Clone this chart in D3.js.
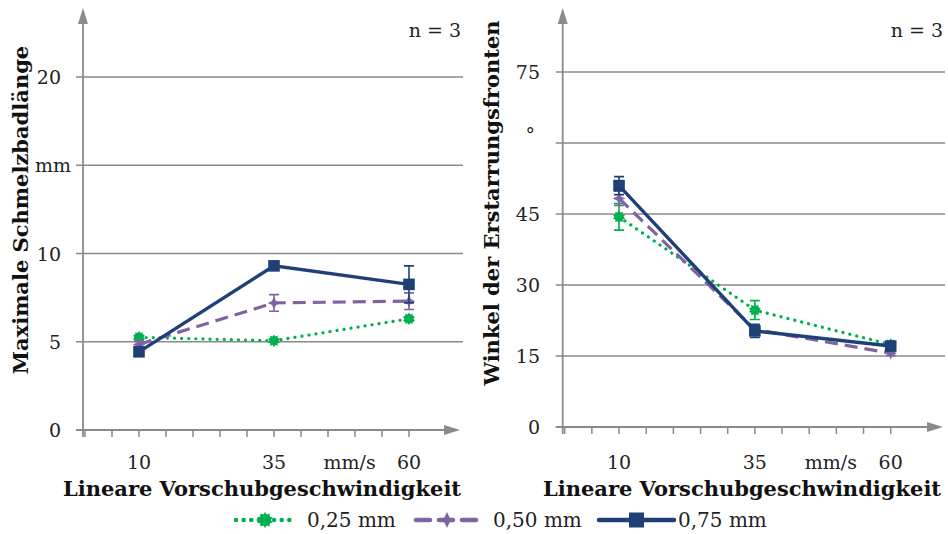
<!DOCTYPE html>
<html><head><meta charset="utf-8">
<script src="https://cdn.jsdelivr.net/npm/d3@7"></script>
<style>
html,body{margin:0;padding:0;background:#fff;}
svg{display:block;font-family:"DejaVu Serif",serif;}
</style></head>
<body><svg id="c" width="948" height="534"></svg>
<script>
// ---- data ----
const speeds = [10, 35, 60];
const seriesNames = ["0,25 mm", "0,50 mm", "0,75 mm"];
// left: Maximale Schmelzbadlänge (mm)
const lenMean025 = [5.25, 5.06, 6.3];
const lenErr025  = [0.12, 0.08, 0.12];
const lenMean050 = [4.85, 7.2, 7.3];
const lenErr050  = [0.2, 0.47, 0.47];
const lenMean075 = [4.43, 9.3, 8.25];
const lenErr075  = [0.18, 0.12, 1.05];
// right: Winkel der Erstarrungsfronten (°)
const angMean025 = [44.4, 24.7, 17.4];
const angErr025  = [2.8, 2.0, 0.4];
const angMean050 = [48.3, 20.6, 15.6];
const angErr050  = [1.5, 0.8, 0.5];
const angMean075 = [51.0, 20.3, 17.1];
const angErr075  = [1.9, 1.4, 0.5];
const leftYTicks = [0, 5, 10, 15, 20];
const leftYLabels = ["0", "5", "10", "mm", "20"];
const rightYTicks = [0, 15, 30, 45, 60, 75];
const rightYLabels = ["0", "15", "30", "45", "°", "75"];
const xTickValues = d3.range(0, 61, 5);
const xLabelValues = [10, 35, 60];
const xUnitPos = 49;

const colors = ["#00b050", "#8064a2", "#1f3f77"];
const dashes = ["0.1 7", "13 7", null];

// custom marker shapes
function burst(r) {
  const n = 10, pts = [];
  for (let i = 0; i < 2 * n; i++) {
    const a = Math.PI * i / n - Math.PI / 2, rr = i % 2 ? r * 0.72 : r;
    pts.push([rr * Math.cos(a), rr * Math.sin(a)]);
  }
  return "M" + pts.join("L") + "Z";
}
function star4(r) {
  const pts = [];
  for (let i = 0; i < 8; i++) {
    const a = Math.PI * i / 4 - Math.PI / 2, rr = i % 2 ? r * 0.45 : r;
    pts.push([rr * Math.cos(a), rr * Math.sin(a)]);
  }
  return "M" + pts.join("L") + "Z";
}
function square(r) { return `M${-r},${-r}h${2 * r}v${2 * r}h${-2 * r}Z`; }
const shapes = [burst, star4, square];

const svg = d3.select("#c");
const grid = "#8a8a8a";

function panel(o) {
  const g = svg.append("g");
  const x = d3.scaleLinear().domain([0, 60]).range(o.xr);
  const y = d3.scaleLinear().domain(o.yd).range(o.yr);
  const ax = o.xr[0] - 2;
  o.yTicks.forEach((t, i) => {
    if (t > 0) g.append("line").attr("x1", ax - 7).attr("x2", o.gridEnd)
      .attr("y1", y(t)).attr("y2", y(t)).attr("stroke", grid).attr("stroke-width", 1.5);
    const lab = o.yLabels[i];
    g.append("text").attr("x", o.labelX).attr("y", y(t) + (lab === "°" ? -2 : 7))
      .attr("text-anchor", lab === "mm" ? "middle" : "end")
      .attr("font-size", 19).attr("fill", "#222").text(lab)
      .attr("dx", lab === "mm" ? -8 : (lab === "°" ? -5 : 0));
  });
  xTickValues.forEach(t => g.append("line").attr("x1", x(t)).attr("x2", x(t))
    .attr("y1", y(0)).attr("y2", y(0) + 7).attr("stroke", grid).attr("stroke-width", 1.5));
  g.append("line").attr("x1", ax - 7).attr("x2", o.xArrow - 12).attr("y1", y(0)).attr("y2", y(0))
    .attr("stroke", grid).attr("stroke-width", 1.8);
  g.append("path").attr("d", `M${o.xArrow},${y(0)} l-16,-5 l0,10 z`).attr("fill", grid);
  g.append("line").attr("x1", ax).attr("x2", ax).attr("y1", y(0) + 7).attr("y2", 24)
    .attr("stroke", grid).attr("stroke-width", 1.8);
  g.append("path").attr("d", `M${ax},8 l-5,16 l10,0 z`).attr("fill", grid);
  xLabelValues.forEach(v => g.append("text").attr("x", x(v)).attr("y", 469)
    .attr("text-anchor", "middle").attr("font-size", 19).attr("fill", "#222").text(v));
  g.append("text").attr("x", x(xUnitPos)).attr("y", 469).attr("text-anchor", "middle")
    .attr("font-size", 19).attr("fill", "#222").text("mm/s");
  g.append("text").attr("x", o.titleX).attr("y", 496).attr("text-anchor", "middle")
    .attr("font-size", 21).attr("font-weight", "bold").attr("fill", "#111")
    .text("Lineare Vorschubgeschwindigkeit");
  g.append("text").attr("transform", `translate(${o.yTitleX},${o.yTitleY}) rotate(-90)`)
    .attr("text-anchor", "middle").attr("font-size", 21).attr("font-weight", "bold")
    .attr("fill", "#111").text(o.yTitle);
  g.append("text").attr("x", o.gridEnd - 2).attr("y", 37).attr("text-anchor", "end")
    .attr("font-size", 19).attr("fill", "#222").text("n = 3");
  o.means.forEach((m, s) => {
    const pts = speeds.map((v, i) => [x(v), y(m[i])]);
    g.append("path").attr("d", d3.line()(pts)).attr("fill", "none")
      .attr("stroke", colors[s]).attr("stroke-width", s === 2 ? 3.4 : 3.2)
      .attr("stroke-linecap", s === 0 ? "round" : "butt")
      .attr("stroke-dasharray", dashes[s]);
    speeds.forEach((v, i) => {
      const e = o.errs[s][i];
      const cx = x(v), y1 = y(m[i] + e), y2 = y(m[i] - e);
      g.append("path").attr("d", `M${cx},${y1}V${y2}M${cx - 5},${y1}h10M${cx - 5},${y2}h10`)
        .attr("stroke", colors[s]).attr("stroke-width", 1.6).attr("fill", "none");
      g.append("path").attr("d", shapes[s](s === 2 ? 5.8 : 6.3))
        .attr("transform", `translate(${cx},${y(m[i])})`).attr("fill", colors[s]);
    });
  });
}

panel({xr: [85, 409], yd: [0, 20], yr: [430, 77], gridEnd: 463, xArrow: 460,
  yTicks: leftYTicks, yLabels: leftYLabels, labelX: 61,
  titleX: 262, yTitle: "Maximale Schmelzbadlänge", yTitleX: 28, yTitleY: 210,
  means: [lenMean025, lenMean050, lenMean075], errs: [lenErr025, lenErr050, lenErr075]});
panel({xr: [564.7, 890.7], yd: [0, 75], yr: [427, 72], gridEnd: 945, xArrow: 943,
  yTicks: rightYTicks, yLabels: rightYLabels, labelX: 540,
  titleX: 742, yTitle: "Winkel der Erstarrungsfronten", yTitleX: 499, yTitleY: 203,
  means: [angMean025, angMean050, angMean075], errs: [angErr025, angErr050, angErr075]});

// legend
const leg = svg.append("g");
const legItems = [
  {x1: 236, x2: 294, tx: 307},
  {x1: 416, x2: 478, tx: 493},
  {x1: 599, x2: 674, tx: 678}
];
legItems.forEach((it, s) => {
  const ly = 520;
  leg.append("line").attr("x1", it.x1).attr("x2", it.x2).attr("y1", ly).attr("y2", ly)
    .attr("stroke", colors[s]).attr("stroke-width", s === 2 ? 4.5 : 4.5)
    .attr("stroke-linecap", "round").attr("stroke-dasharray", s === 0 ? "0.1 7.5" : (s === 1 ? "14 9" : null));
  leg.append("path").attr("d", shapes[s](s === 2 ? 7.5 : 8))
    .attr("transform", `translate(${(it.x1 + it.x2) / 2},${ly})`).attr("fill", colors[s]);
  leg.append("text").attr("x", it.tx).attr("y", ly + 7).attr("font-size", 20)
    .attr("fill", "#222").text(seriesNames[s]);
});
</script></body></html>
